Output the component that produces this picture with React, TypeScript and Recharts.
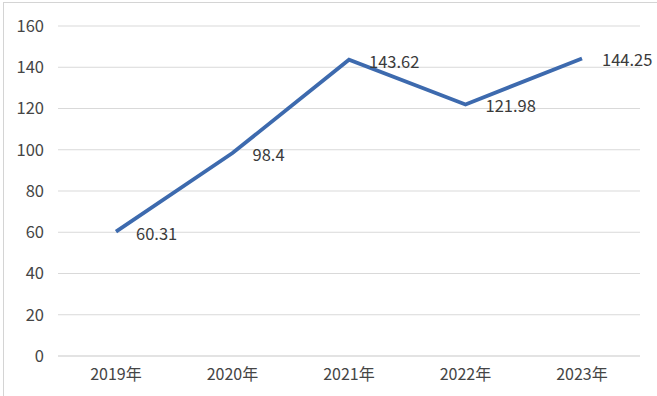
import React from 'react';
import { LineChart, Line, XAxis, YAxis, CartesianGrid, LabelList } from 'recharts';

const years = ['2019年', '2020年', '2021年', '2022年', '2023年'];
const values = [60.31, 98.4, 143.62, 121.98, 144.25];
const yTicks = [0, 20, 40, 60, 80, 100, 120, 140, 160];

const data = years.map((year, i) => ({ year, value: values[i] }));

const FONT = '"Noto Sans CJK SC", "Noto Sans", sans-serif';

const ValueLabel = (props: any) => {
  const { x, y, value } = props;
  return (
    <text
      x={x + 20}
      y={y + 1}
      dominantBaseline="central"
      textAnchor="start"
      fontSize={16.5}
      fontFamily={FONT}
      fill="#3a3a3a"
    >
      {value}
    </text>
  );
};

export default function App() {
  return (
    <div
      style={{
        position: 'fixed',
        left: 0,
        top: 0,
        width: 657,
        height: 396,
        background: '#ffffff',
        overflow: 'hidden',
      }}
    >
      <div
        style={{
          position: 'absolute',
          left: 3,
          top: 2,
          width: 660,
          height: 400,
          border: '1px solid #d4d4d4',
        }}
      />
      <LineChart
        width={657}
        height={396}
        data={data}
        margin={{ top: 26, right: 17, left: 0, bottom: 0 }}
        style={{ position: 'absolute', left: 0, top: 0 }}
      >
        <CartesianGrid vertical={false} stroke="#d9d9d9" strokeWidth={1.2} />
        <XAxis
          dataKey="year"
          padding={{ left: 58, right: 58 }}
          axisLine={{ stroke: '#d9d9d9', strokeWidth: 1.2 }}
          tickLine={false}
          tickSize={0}
          tickMargin={13}
          height={40}
          tick={{ fill: '#454545', fontSize: 16, fontFamily: FONT }}
        />
        <YAxis
          domain={[0, 160]}
          ticks={yTicks}
          axisLine={false}
          tickLine={false}
          tickSize={0}
          tickMargin={14}
          width={58}
          tick={{ fill: '#454545', fontSize: 16.5, fontFamily: FONT }}
        />
        <Line
          type="linear"
          dataKey="value"
          stroke="#3d6aae"
          strokeWidth={3.8}
          dot={false}
          isAnimationActive={false}
        >
          <LabelList dataKey="value" content={<ValueLabel />} />
        </Line>
      </LineChart>
    </div>
  );
}
